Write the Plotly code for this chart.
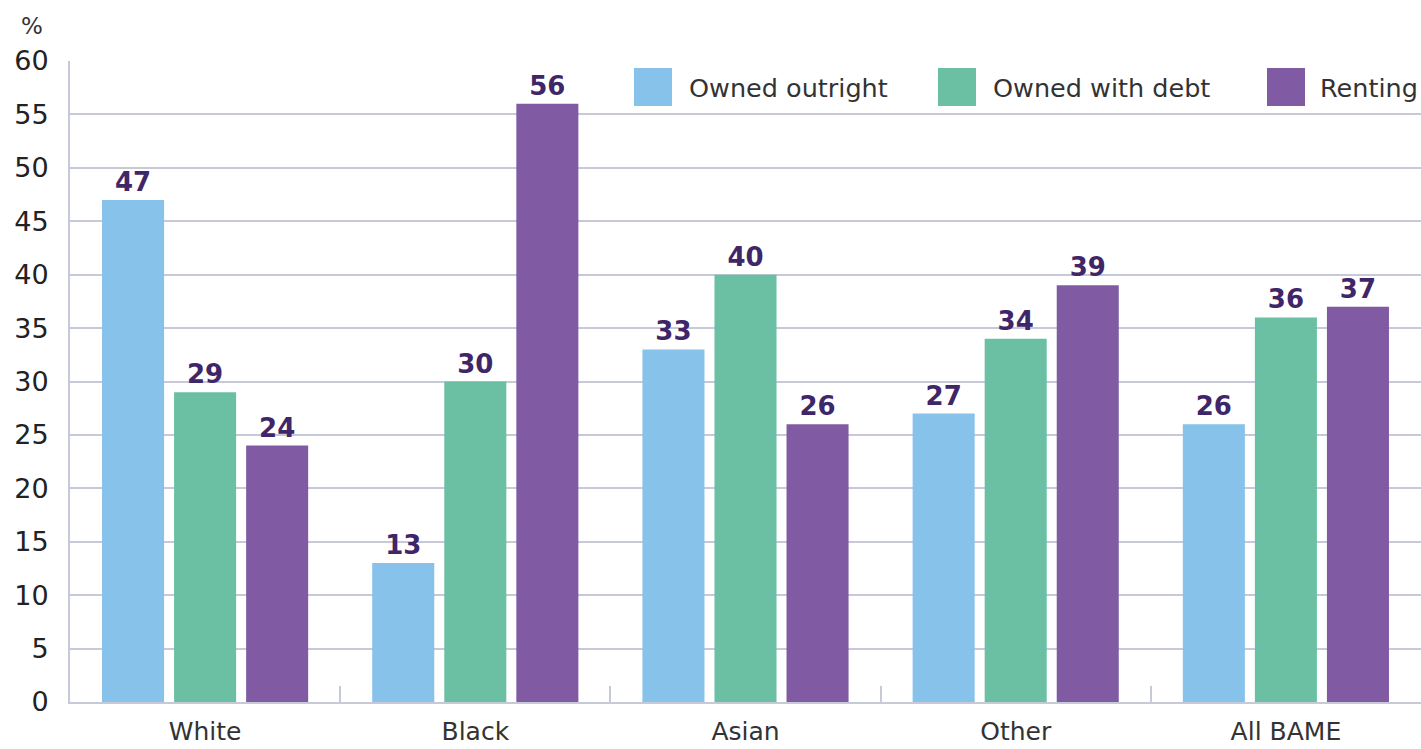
import plotly.graph_objects as go

# Housing tenure by ethnic group (%)
groups = ["White", "Black", "Asian", "Other", "All BAME"]
owned_outright = [47, 13, 33, 27, 26]
owned_with_debt = [29, 30, 40, 34, 36]
renting = [24, 56, 26, 39, 37]

series = [
    ("Owned outright", owned_outright, "#86C2EA"),
    ("Owned with debt", owned_with_debt, "#6BC0A3"),
    ("Renting", renting, "#805BA4"),
]

FONT = "DejaVu Sans"
TEXT = "#333333"
GRID = "#C5C9D8"
LABEL = "#3F2668"

W, H = 1421, 749
L, R, T, B = 70, 0, 61, 47
PW, PH = W - L - R, H - T - B

def px(x):
    return (x - L) / PW

def py(y):
    return (H - B - y) / PH

fig = go.Figure()
for name, vals, col in series:
    fig.add_trace(go.Bar(
        name=name, x=groups, y=vals,
        marker=dict(color=col, line=dict(width=0)),
        text=vals, texttemplate="%{text}", textposition="outside",
        textfont=dict(family=FONT, size=26, color=LABEL, weight="bold"),
        cliponaxis=False, showlegend=False,
    ))

# Legend drawn as large swatches with labels
legend_items = [(634, 687), (938, 991), (1267, 1318)]
for (sx, tx), (name, _, col) in zip(legend_items, series):
    fig.add_shape(type="rect", xref="paper", yref="paper",
                  x0=px(sx), x1=px(sx + 38), y0=py(106), y1=py(68),
                  fillcolor=col, line=dict(width=0), layer="above")
    fig.add_annotation(xref="paper", yref="paper", x=px(tx), y=py(88),
                       xanchor="left", yanchor="middle", showarrow=False,
                       text=name, font=dict(family=FONT, size=25.5, color=TEXT))

fig.add_annotation(xref="paper", yref="paper", x=px(32), y=py(26),
                   xanchor="center", yanchor="middle", showarrow=False,
                   text="%", font=dict(family=FONT, size=23, color=TEXT))

fig.update_layout(
    width=W, height=H,
    margin=dict(l=L, r=R, t=T, b=B, autoexpand=False),
    paper_bgcolor="white", plot_bgcolor="white",
    barmode="group", bargap=0.2, bargroupgap=0.139,
    font=dict(family=FONT, color=TEXT),
    xaxis=dict(
        automargin=False,
        showline=True, linecolor=GRID, linewidth=2,
        ticks="inside", tickson="boundaries", ticklen=16, tickcolor=GRID, tickwidth=2,
        tickfont=dict(family=FONT, size=25, color=TEXT),
        ticklabelstandoff=6,
        showgrid=False,
    ),
    yaxis=dict(
        automargin=False,
        range=[0, 60], dtick=5, tick0=0,
        showline=True, linecolor=GRID, linewidth=2,
        showgrid=True, gridcolor=GRID, gridwidth=2,
        zeroline=False,
        ticks="", ticklabelstandoff=14,
        tickfont=dict(family=FONT, size=27, color="#222222"),
    ),
)

fig.write_html("out.html")
